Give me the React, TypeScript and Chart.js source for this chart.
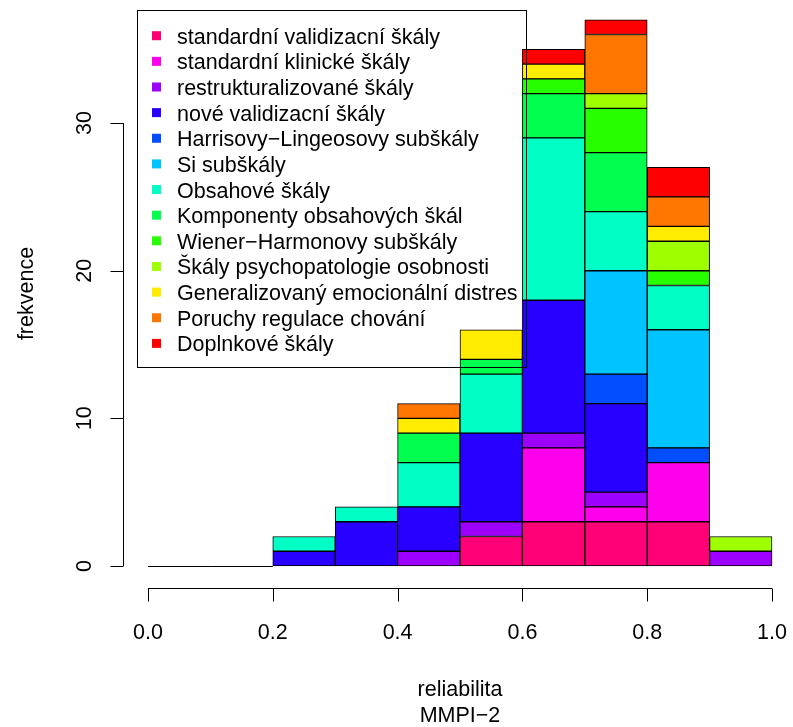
import React, { useEffect, useRef } from "react";
import { Chart, registerables } from "chart.js";

Chart.register(...registerables);

// ---- data ----
const binEdges = [0.0, 0.1, 0.2, 0.3, 0.4, 0.5, 0.6, 0.7, 0.8, 0.9, 1.0];
const xTickValues = [0.0, 0.2, 0.4, 0.6, 0.8, 1.0];
const xTickLabels = ["0.0", "0.2", "0.4", "0.6", "0.8", "1.0"];
const yTickValues = [0, 10, 20, 30];
const yTickLabels = ["0", "10", "20", "30"];

const seriesNames = [
  "standardní validizacní škály",
  "standardní klinické škály",
  "restrukturalizované škály",
  "nové validizacní škály",
  "Harrisovy−Lingeosovy subškály",
  "Si subškály",
  "Obsahové škály",
  "Komponenty obsahových škál",
  "Wiener−Harmonovy subškály",
  "Škály psychopatologie osobnosti",
  "Generalizovaný emocionální distres",
  "Poruchy regulace chování",
  "Doplnkové škály",
];

const seriesColors = [
  "#FF0076",
  "#FF00EC",
  "#9D00FF",
  "#2700FF",
  "#004EFF",
  "#00C4FF",
  "#00FFC4",
  "#00FF4E",
  "#27FF00",
  "#9DFF00",
  "#FFEC00",
  "#FF7600",
  "#FF0000",
];

// counts per bin: [0-.1, .1-.2, .2-.3, .3-.4, .4-.5, .5-.6, .6-.7, .7-.8, .8-.9, .9-1]
const standardniValidizacni = [0, 0, 0, 0, 0, 2, 3, 3, 3, 0];
const standardniKlinicke = [0, 0, 0, 0, 0, 0, 5, 1, 4, 0];
const restrukturalizovane = [0, 0, 0, 0, 1, 1, 1, 1, 0, 1];
const noveValidizacni = [0, 0, 1, 3, 3, 6, 9, 6, 0, 0];
const harrisLingoes = [0, 0, 0, 0, 0, 0, 0, 2, 1, 0];
const siSubskaly = [0, 0, 0, 0, 0, 0, 0, 7, 8, 0];
const obsahove = [0, 0, 1, 1, 3, 4, 11, 4, 3, 0];
const komponenty = [0, 0, 0, 0, 2, 1, 3, 4, 0, 0];
const wienerHarmon = [0, 0, 0, 0, 0, 0, 1, 3, 1, 0];
const psychopatologie = [0, 0, 0, 0, 0, 0, 0, 1, 2, 1];
const generalizovany = [0, 0, 0, 0, 1, 2, 1, 0, 1, 0];
const poruchyRegulace = [0, 0, 0, 0, 1, 0, 0, 4, 2, 0];
const doplnkove = [0, 0, 0, 0, 0, 0, 1, 1, 2, 0];

const seriesValues = [
  standardniValidizacni,
  standardniKlinicke,
  restrukturalizovane,
  noveValidizacni,
  harrisLingoes,
  siSubskaly,
  obsahove,
  komponenty,
  wienerHarmon,
  psychopatologie,
  generalizovany,
  poruchyRegulace,
  doplnkove,
];

const xTitle = "reliabilita";
const xSubTitle = "MMPI−2";
const yTitle = "frekvence";

const FONT = '21.5px "Liberation Sans", Arial, Helvetica, sans-serif';

const rAxesPlugin = {
  id: "rAxes",
  afterDraw(chart: any) {
    const { ctx, chartArea } = chart;
    const xs = chart.scales.x;
    const ys = chart.scales.y;
    const snap = (v: number) => Math.round(v) + 0.5;
    ctx.save();
    ctx.strokeStyle = "#000";
    ctx.lineWidth = 1;
    ctx.fillStyle = "#000";
    ctx.font = FONT;

    // empty bins drawn as flat lines at zero
    const y0 = snap(ys.getPixelForValue(0));
    for (let i = 0; i < binEdges.length - 1; i++) {
      let total = 0;
      seriesValues.forEach((s) => (total += s[i]));
      if (total === 0) {
        ctx.beginPath();
        ctx.moveTo(xs.getPixelForValue(binEdges[i]), y0);
        ctx.lineTo(xs.getPixelForValue(binEdges[i + 1]), y0);
        ctx.stroke();
      }
    }

    // x axis
    const ya = snap(chartArea.bottom);
    ctx.beginPath();
    ctx.moveTo(xs.getPixelForValue(xTickValues[0]), ya);
    ctx.lineTo(xs.getPixelForValue(xTickValues[xTickValues.length - 1]), ya);
    ctx.stroke();
    ctx.textAlign = "center";
    ctx.textBaseline = "alphabetic";
    xTickValues.forEach((v, i) => {
      const px = snap(xs.getPixelForValue(v));
      ctx.beginPath();
      ctx.moveTo(px, ya);
      ctx.lineTo(px, ya + 13);
      ctx.stroke();
      ctx.fillText(xTickLabels[i], xs.getPixelForValue(v), ya + 50);
    });

    // y axis
    const xa = snap(chartArea.left);
    ctx.beginPath();
    ctx.moveTo(xa, ys.getPixelForValue(yTickValues[0]));
    ctx.lineTo(xa, ys.getPixelForValue(yTickValues[yTickValues.length - 1]));
    ctx.stroke();
    yTickValues.forEach((v, i) => {
      const py = snap(ys.getPixelForValue(v));
      ctx.beginPath();
      ctx.moveTo(xa, py);
      ctx.lineTo(xa - 13, py);
      ctx.stroke();
      ctx.save();
      ctx.translate(xa - 33, ys.getPixelForValue(v));
      ctx.rotate(-Math.PI / 2);
      ctx.fillText(yTickLabels[i], 0, 0);
      ctx.restore();
    });

    // axis titles
    const cx = xs.getPixelForValue(0.5);
    ctx.fillText(xTitle, cx, 696);
    ctx.fillText(xSubTitle, cx, 722);
    ctx.save();
    ctx.translate(33, (chartArea.top + chartArea.bottom) / 2 - 3);
    ctx.rotate(-Math.PI / 2);
    ctx.fillText(yTitle, 0, 0);
    ctx.restore();

    // legend (transparent background, drawn on top)
    ctx.strokeRect(137.5, 10.5, 389, 357);
    ctx.textAlign = "left";
    chart.data.datasets.forEach((ds: any, i: number) => {
      const cy = 35.7 + i * 25.64;
      ctx.fillStyle = ds.backgroundColor;
      ctx.fillRect(152, cy - 4.5, 9, 9);
      ctx.fillStyle = "#000";
      ctx.fillText(ds.label, 177, cy + 8);
    });

    ctx.restore();
  },
};

export default function App() {
  const canvasRef = useRef<HTMLCanvasElement | null>(null);

  useEffect(() => {
    document.body.style.margin = "0";
    const canvas = canvasRef.current;
    if (!canvas) return;

    const datasets = seriesNames.map((name, si) => ({
      label: name,
      data: seriesValues[si].map((v, i) => ({
        x: (binEdges[i] + binEdges[i + 1]) / 2,
        y: v,
      })),
      backgroundColor: seriesColors[si],
      borderColor: "#000",
      borderWidth: 1,
      borderSkipped: false,
      barPercentage: 1,
      categoryPercentage: 1,
    }));

    const chart = new Chart(canvas, {
      type: "bar",
      data: { datasets },
      options: {
        animation: false,
        responsive: false,
        maintainAspectRatio: false,
        devicePixelRatio: 1,
        layout: { padding: { left: 123, right: 15, top: 5, bottom: 139 } },
        plugins: {
          legend: { display: false },
          tooltip: { enabled: false },
          title: { display: false },
        },
        scales: {
          x: {
            type: "linear",
            display: false,
            stacked: true,
            offset: false,
            min: -0.04,
            max: 1.0096,
            ticks: { stepSize: 0.2, includeBounds: false },
            afterBuildTicks: (s: any) => {
              s.ticks = xTickValues.map((v) => ({ value: v }));
            },
          },
          y: {
            type: "linear",
            display: false,
            stacked: true,
            min: -1.49,
            max: 38,
            ticks: { stepSize: 10, includeBounds: false },
            afterBuildTicks: (s: any) => {
              s.ticks = yTickValues.map((v) => ({ value: v }));
            },
          },
        },
      },
      plugins: [rAxesPlugin],
    });

    return () => chart.destroy();
  }, []);

  return (
    <div style={{ width: 793, height: 727, background: "#fff" }}>
      <canvas ref={canvasRef} width={793} height={727} style={{ display: "block" }} />
    </div>
  );
}
